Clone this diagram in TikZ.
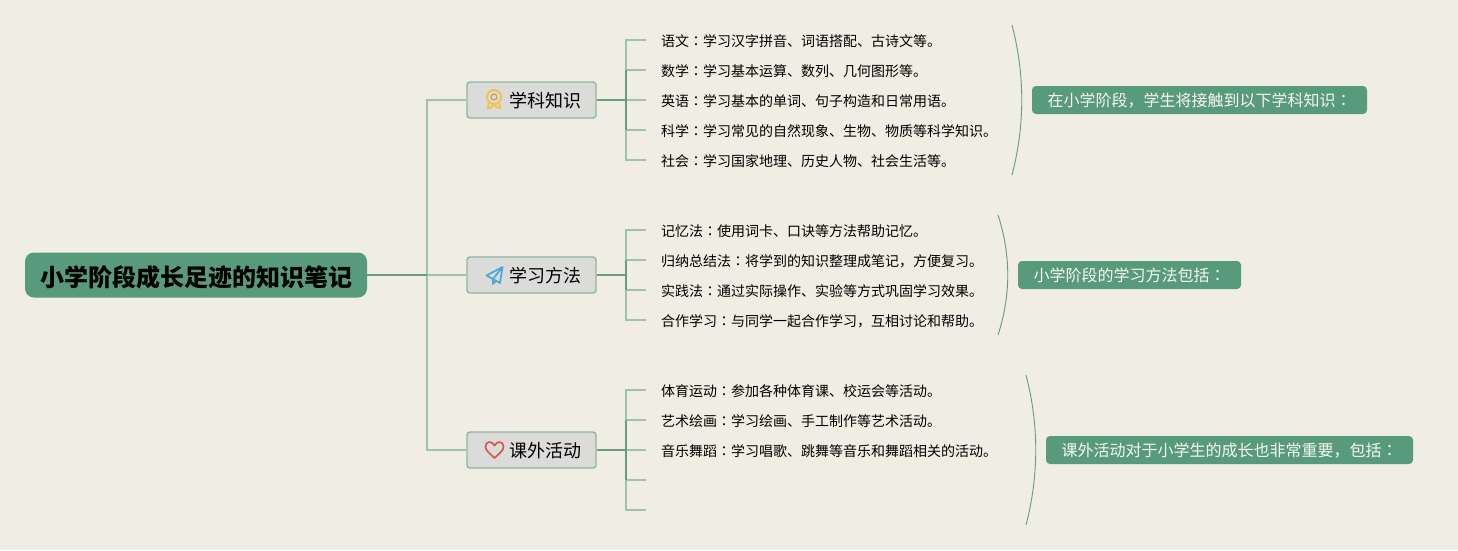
\documentclass[tikz,border=0pt]{standalone}
\usepackage{fontspec}
\setmainfont{Noto Sans CJK SC}
\newfontfamily\colonfont{Noto Sans CJK JP}
\newcommand{\mh}{{\colonfont ：}}
\definecolor{paper}{HTML}{F0EDE2}
\definecolor{mainGreen}{HTML}{579B7C}
\definecolor{lineGreen}{HTML}{A0C1AE}
\definecolor{edgeGreen}{HTML}{8DB6A1}
\definecolor{hubGreen}{HTML}{649D84}
\definecolor{boxGrey}{HTML}{DBDBDA}
\definecolor{medal}{HTML}{F2C24A}
\definecolor{plane}{HTML}{4BA6DA}
\definecolor{heart}{HTML}{D8564B}
\tikzstyle{rootbox}=[
        fill=mainGreen,
        rounded corners=9pt,
        minimum width=342pt,
        minimum height=45pt,
        inner sep=0pt,
        text height=26pt,
        text depth=3.5pt,
        font=\fontsize{24}{28}\selectfont\bfseries
]
\tikzstyle{branchbox}=[
        draw=edgeGreen,
        line width=1.4pt,
        fill=boxGrey,
        rounded corners=3pt,
        minimum width=129pt,
        minimum height=36pt,
        inner sep=0pt,
        text height=17pt,
        text depth=2.2pt,
        font=\fontsize{18}{22}\selectfont
]
\tikzstyle{leaf}=[
        anchor=west,
        inner xsep=15pt,
        inner ysep=0pt,
        text height=14pt,
        text depth=2pt,
        font=\fontsize{14}{18}\selectfont
]
\tikzstyle{summary}=[
        fill=mainGreen,
        text=paper!50!white,
        rounded corners=4pt,
        minimum height=28pt,
        inner sep=0pt,
        text height=16pt,
        text depth=2.6pt,
        font=\fontsize{16}{20}\selectfont
]
\tikzstyle{trunkline}=[
        draw=lineGreen,
        line width=1.6pt
]
\tikzstyle{hubline}=[
        draw=hubGreen,
        line width=1.6pt
]
\tikzstyle{bracket}=[
        draw=hubGreen,
        line width=0.9pt
]
\begin{document}
\begin{tikzpicture}[x=1pt,y=-1pt]
    \fill[paper] (0,0) rectangle (1458,550);
    \useasboundingbox (0,0) rectangle (1458,550);

    \node[rootbox] (root) at (196,275) {小学阶段成长足迹的知识笔记};
    \node[branchbox] (subject) at (531.5,100) {\hspace*{27pt}学科知识};
    \node[branchbox] (method) at (531.5,275) {\hspace*{27pt}学习方法};
    \node[branchbox] (activity) at (531.5,450) {\hspace*{27pt}课外活动};

    \coordinate (trunk) at (427,275);
    \coordinate (hubA) at (626,100);
    \coordinate (hubB) at (626,275);
    \coordinate (hubC) at (626,450);

    % leaves
    \foreach \i/\ypos/\txt in {
        1/40/{语文\mh 学习汉字拼音、词语搭配、古诗文等。},
        2/70/{数学\mh 学习基本运算、数列、几何图形等。},
        3/100/{英语\mh 学习基本的单词、句子构造和日常用语。},
        4/130/{科学\mh 学习常见的自然现象、生物、物质等科学知识。},
        5/160/{社会\mh 学习国家地理、历史人物、社会生活等。}} {
        \node[leaf] (leafA\i) at (646,\ypos) {\txt};
    }
    \foreach \i/\ypos/\txt in {
        1/230/{记忆法\mh 使用词卡、口诀等方法帮助记忆。},
        2/260/{归纳总结法\mh 将学到的知识整理成笔记，方便复习。},
        3/290/{实践法\mh 通过实际操作、实验等方式巩固学习效果。},
        4/320/{合作学习\mh 与同学一起合作学习，互相讨论和帮助。}} {
        \node[leaf] (leafB\i) at (646,\ypos) {\txt};
    }
    \foreach \i/\ypos/\txt in {
        1/390/{体育运动\mh 参加各种体育课、校运会等活动。},
        2/420/{艺术绘画\mh 学习绘画、手工制作等艺术活动。},
        3/450/{音乐舞蹈\mh 学习唱歌、跳舞等音乐和舞蹈相关的活动。}} {
        \node[leaf] (leafC\i) at (646,\ypos) {\txt};
    }
    \coordinate (leafC4) at (646,480);
    \coordinate (leafC5) at (646,510);

    % connectors
    \draw[trunkline] (trunk) |- (subject.west);
    \draw[trunkline] (trunk) -- (method.west);
    \draw[trunkline] (trunk) |- (activity.west);
    \draw[hubline] (root.east) -- (trunk);

    \foreach \i in {1,...,5} {
        \draw[trunkline] (hubA) |- (leafA\i.west);
    }
    \foreach \i in {1,...,4} {
        \draw[trunkline] (hubB) |- (leafB\i.west);
    }
    \foreach \i in {1,2,3} {
        \draw[trunkline] (hubC) |- (leafC\i.west);
    }
    \draw[trunkline] (hubC) |- (leafC4);
    \draw[trunkline] (hubC) |- (leafC5);
    \draw[hubline] (subject.east) -- (hubA);
    \draw[hubline] (method.east) -- (hubB);
    \draw[hubline] (activity.east) -- (hubC);
    \draw[hubline] (626,70) -- (626,130);
    \draw[hubline] (626,260) -- (626,290);
    \draw[hubline] (626,420) -- (626,480);

    % summaries
    \node[summary,minimum width=335pt] (sumA) at (1199.5,100) {在小学阶段，学生将接触到以下学科知识\mh};
    \node[summary,minimum width=223pt] (sumB) at (1129.5,275) {小学阶段的学习方法包括\mh};
    \node[summary,minimum width=367pt] (sumC) at (1229.5,450) {课外活动对于小学生的成长也非常重要，包括\mh};

    \coordinate (arcA1) at (1012,25);
    \coordinate (arcA2) at (1012,175);
    \coordinate (arcB1) at (998,215);
    \coordinate (arcB2) at (998,335);
    \coordinate (arcC1) at (1026,375);
    \coordinate (arcC2) at (1026,525);
    \draw[bracket] (arcA1) .. controls (1025,75) and (1025,125) .. (arcA2);
    \draw[bracket] (arcB1) .. controls (1011,255) and (1011,295) .. (arcB2);
    \draw[bracket] (arcC1) .. controls (1039,425) and (1039,475) .. (arcC2);

    % icons
    \draw[draw=medal,line width=2pt] (494,97) circle (7);
    \draw[draw=medal!80!black,line width=1pt] (494,97) circle (3);
    \draw[draw=medal,line width=1.8pt,line join=round] (489,103.5) -- (487.5,108.5) -- (491,107.5) -- (494,104.5) -- (497,107.5) -- (500.5,108.5) -- (499,103.5);
    \draw[draw=plane,line width=1.7pt,line join=round] (502.5,267) -- (486.5,275.5) -- (493,279) -- (500,283) -- cycle;
    \draw[draw=plane,line width=1.7pt,line join=round] (502.5,267) -- (493,279) -- (493,284) -- (496.5,280.5);
    \draw[draw=heart,line width=1.7pt,line join=round] (494.5,458) .. controls (488,452) and (485.5,450) .. (485.5,446.5) .. controls (485.5,441) and (492,440.5) .. (494.5,445.5) .. controls (497,440.5) and (503.5,441) .. (503.5,446.5) .. controls (503.5,450) and (501,452) .. (494.5,458) -- cycle;
\end{tikzpicture}
\end{document}
